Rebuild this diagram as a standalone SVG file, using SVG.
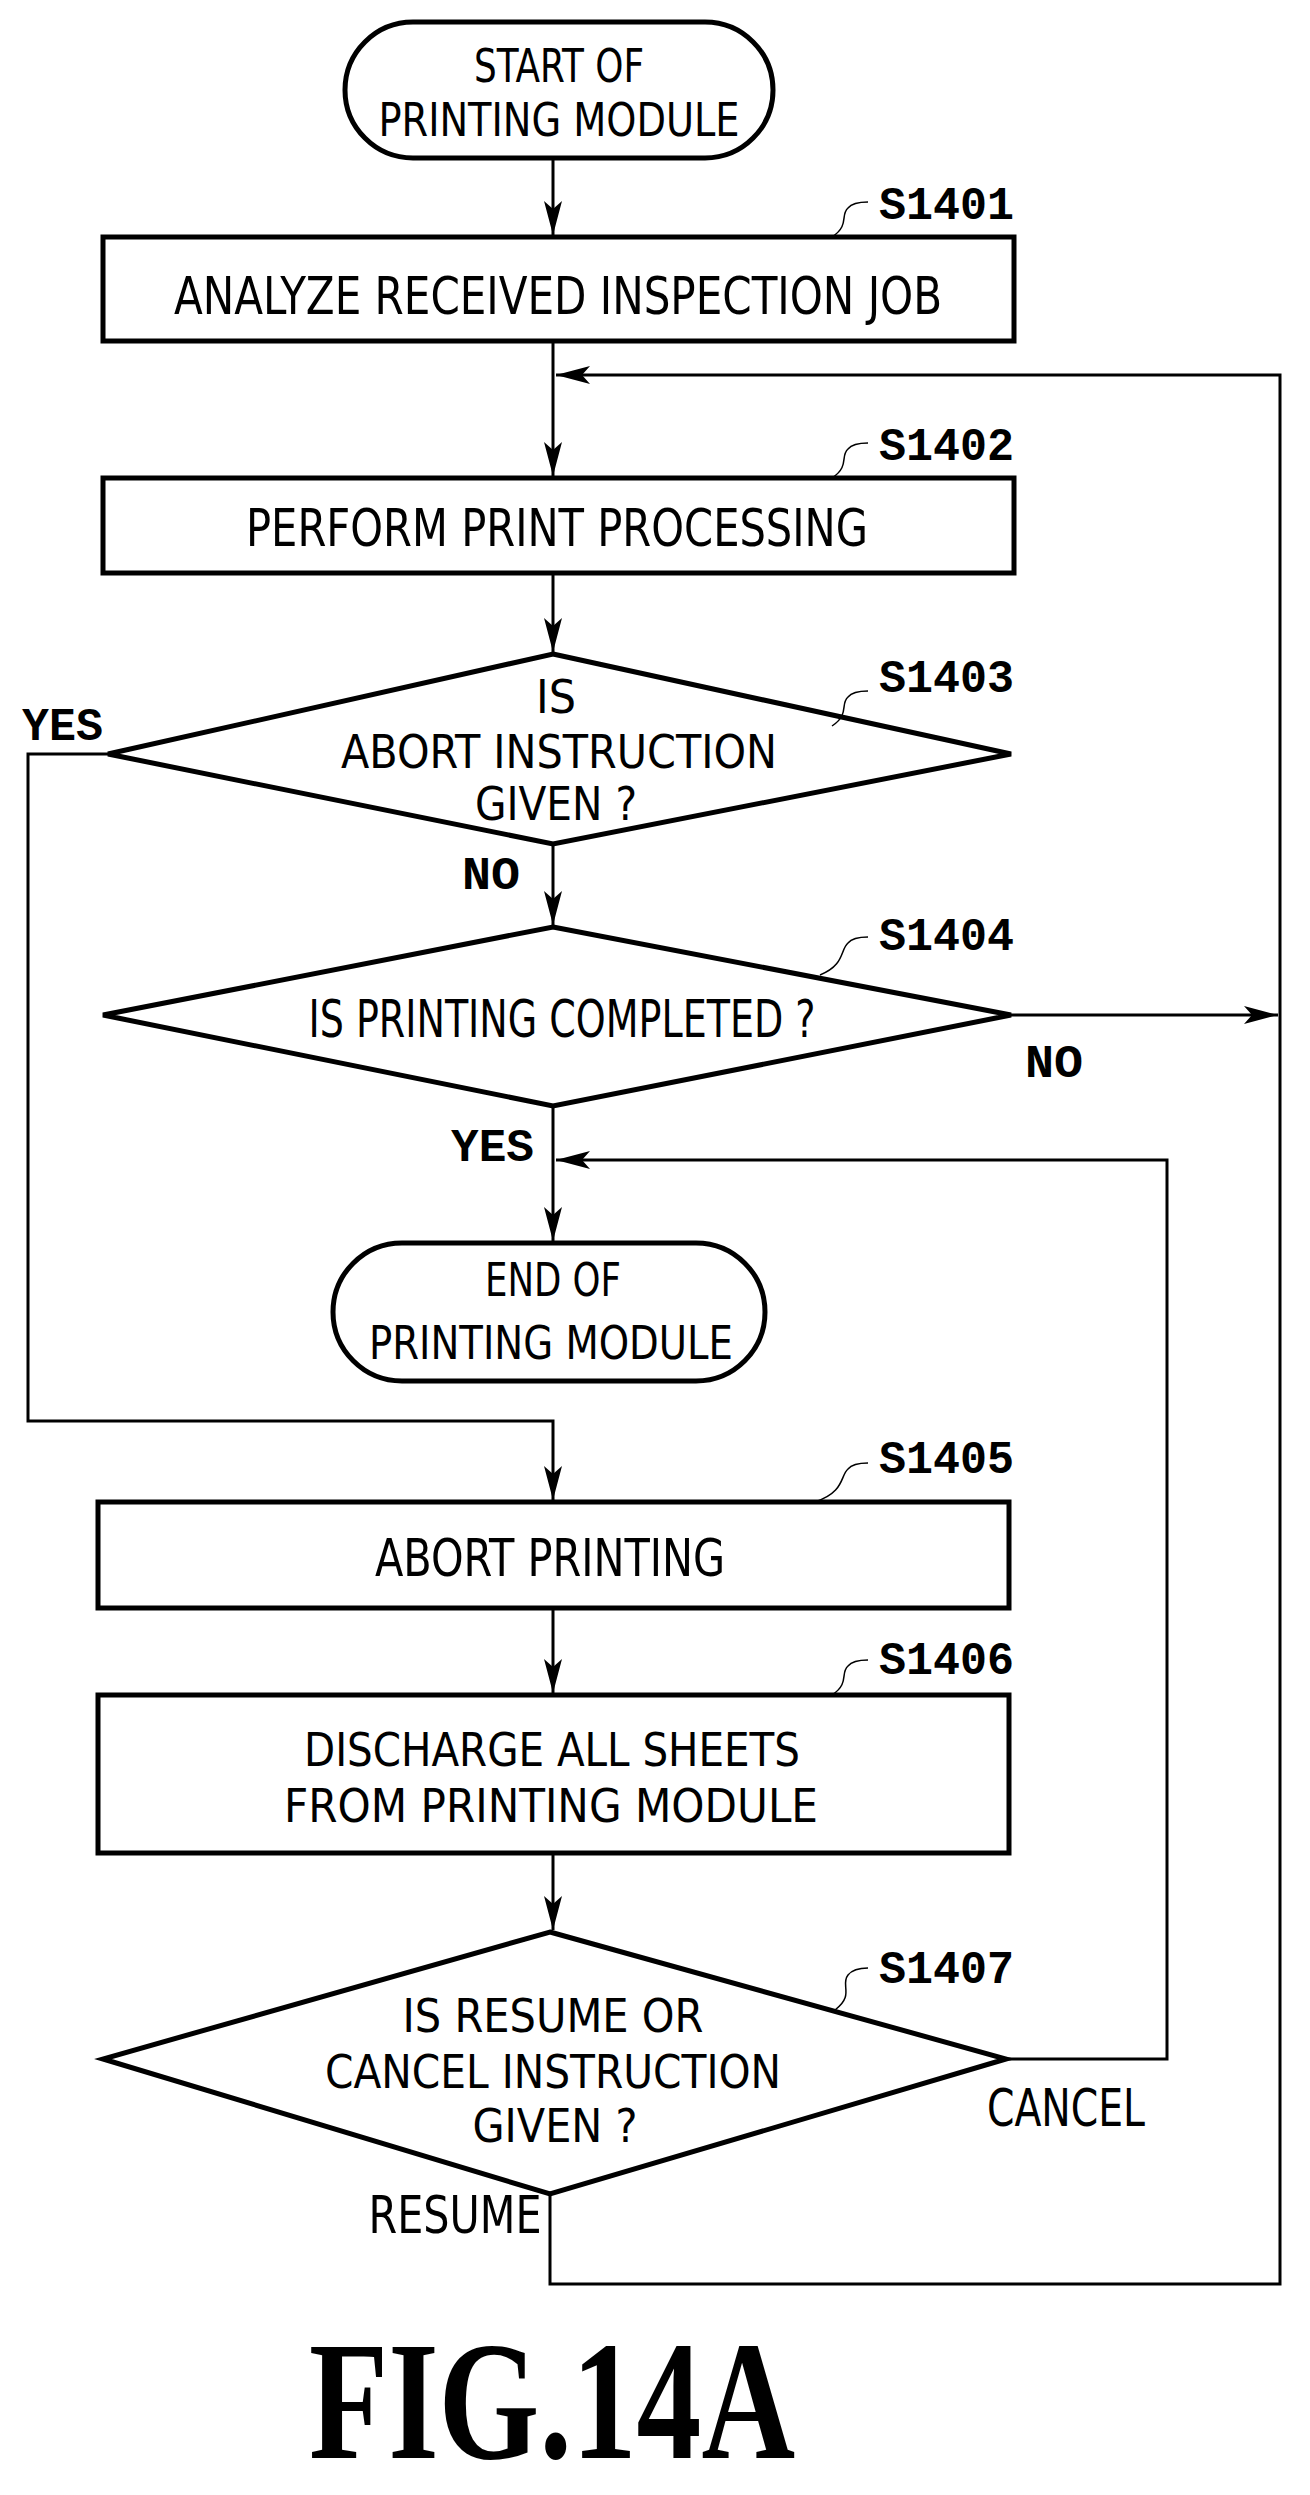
<svg xmlns="http://www.w3.org/2000/svg" width="1310" height="2495" viewBox="0 0 1310 2495">
<style>
.s{fill:#fff;stroke:#000;stroke-width:5}
.c{fill:none;stroke:#000;stroke-width:3}
.t{font-family:"DejaVu Sans Condensed","DejaVu Sans",sans-serif;font-size:52px;text-anchor:middle}
.tt{font-size:46px}
.l{font-family:"Liberation Mono",monospace;font-weight:bold;font-size:46px}
.q{fill:none;stroke:#000;stroke-width:1.5}
</style>
<defs>
<marker id="a" markerWidth="34" markerHeight="18" refX="34" refY="9" orient="auto" markerUnits="userSpaceOnUse" viewBox="0 0 34 18">
<path d="M0,0 L34,9 L0,18 L8,9 Z" fill="#000"/>
</marker>
</defs>
<g id="connectors">
<path class="c" d="M553,158 V235" marker-end="url(#a)"/>
<path class="c" d="M553,341 V476" marker-end="url(#a)"/>
<path class="c" d="M553,573 V652" marker-end="url(#a)"/>
<path class="c" d="M553,844 V925" marker-end="url(#a)"/>
<path class="c" d="M553,1106 V1241" marker-end="url(#a)"/>
<path class="c" d="M108,754 H28 V1421 H553 V1500" marker-end="url(#a)"/>
<path class="c" d="M553,1608 V1693" marker-end="url(#a)"/>
<path class="c" d="M553,1853 V1930" marker-end="url(#a)"/>
<path class="c" d="M1011,1015 H1278" marker-end="url(#a)"/>
<path class="c" d="M1006,2059 H1167 V1160 H556" marker-end="url(#a)"/>
<path class="c" d="M550,2194 V2284 H1280 V375 H556" marker-end="url(#a)"/>
</g>
<g id="start"><rect class="s" x="345" y="22" width="428" height="136" rx="68"/>
<text class="t tt" x="559" y="82" textLength="170" lengthAdjust="spacingAndGlyphs">START OF</text>
<text class="t tt" x="559" y="136" textLength="361" lengthAdjust="spacingAndGlyphs">PRINTING MODULE</text></g>
<g id="S1401"><rect class="s" x="103" y="237" width="911" height="104"/>
<text class="t" x="558" y="314" textLength="768" lengthAdjust="spacingAndGlyphs">ANALYZE RECEIVED INSPECTION JOB</text>
<path class="q" d="M832,237 C850,225 840,215 848,208 C852,203 860,202 868,202"/>
<text class="l" x="879" y="219" textLength="135" lengthAdjust="spacingAndGlyphs">S1401</text></g>
<g id="S1402"><rect class="s" x="103" y="478" width="911" height="95"/>
<text class="t" x="557" y="546" textLength="622" lengthAdjust="spacingAndGlyphs">PERFORM PRINT PROCESSING</text>
<path class="q" d="M832,478 C850,466 840,456 848,449 C852,444 860,443 868,443"/>
<text class="l" x="879" y="460" textLength="135" lengthAdjust="spacingAndGlyphs">S1402</text></g>
<g id="S1403"><polygon class="s" points="553,654 1011,754 553,844 108,754"/>
<text class="t tt" x="556" y="713" textLength="40" lengthAdjust="spacingAndGlyphs">IS</text>
<text class="t tt" x="559" y="768" textLength="436" lengthAdjust="spacingAndGlyphs">ABORT INSTRUCTION</text>
<text class="t tt" x="556" y="820" textLength="162" lengthAdjust="spacingAndGlyphs">GIVEN ?</text>
<path class="q" d="M832,726 C850,714 840,704 848,697 C852,692 860,691 868,691"/>
<text class="l" x="879" y="692" textLength="135" lengthAdjust="spacingAndGlyphs">S1403</text>
<text class="l" x="22" y="740" textLength="81" lengthAdjust="spacingAndGlyphs">YES</text>
<text class="l" x="462" y="889" textLength="58" lengthAdjust="spacingAndGlyphs">NO</text></g>
<g id="S1404"><polygon class="s" points="553,927 1011,1015 553,1106 103,1015"/>
<text class="t" x="562" y="1037" textLength="507" lengthAdjust="spacingAndGlyphs">IS PRINTING COMPLETED ?</text>
<path class="q" d="M820,975 C845,965 840,950 848,943 C852,938 860,937 868,937"/>
<text class="l" x="879" y="950" textLength="135" lengthAdjust="spacingAndGlyphs">S1404</text>
<text class="l" x="1025" y="1077" textLength="58" lengthAdjust="spacingAndGlyphs">NO</text>
<text class="l" x="451" y="1161" textLength="83" lengthAdjust="spacingAndGlyphs">YES</text></g>
<g id="end"><rect class="s" x="333" y="1243" width="432" height="138" rx="69"/>
<text class="t tt" x="553" y="1296" textLength="136" lengthAdjust="spacingAndGlyphs">END OF</text>
<text class="t tt" x="551" y="1359" textLength="364" lengthAdjust="spacingAndGlyphs">PRINTING MODULE</text></g>
<g id="S1405"><rect class="s" x="98" y="1502" width="911" height="106"/>
<text class="t" x="550" y="1576" textLength="350" lengthAdjust="spacingAndGlyphs">ABORT PRINTING</text>
<path class="q" d="M815,1502 C845,1492 840,1476 848,1469 C852,1464 860,1463 868,1463"/>
<text class="l" x="879" y="1473" textLength="135" lengthAdjust="spacingAndGlyphs">S1405</text></g>
<g id="S1406"><rect class="s" x="98" y="1695" width="911" height="158"/>
<text class="t tt" x="552" y="1766" textLength="496" lengthAdjust="spacingAndGlyphs">DISCHARGE ALL SHEETS</text>
<text class="t tt" x="551" y="1822" textLength="534" lengthAdjust="spacingAndGlyphs">FROM PRINTING MODULE</text>
<path class="q" d="M832,1695 C850,1683 840,1673 848,1666 C852,1661 860,1660 868,1660"/>
<text class="l" x="879" y="1674" textLength="135" lengthAdjust="spacingAndGlyphs">S1406</text></g>
<g id="S1407"><polygon class="s" points="550,1932 1006,2059 550,2194 103,2059"/>
<text class="t tt" x="553" y="2032" textLength="301" lengthAdjust="spacingAndGlyphs">IS RESUME OR</text>
<text class="t tt" x="553" y="2088" textLength="456" lengthAdjust="spacingAndGlyphs">CANCEL INSTRUCTION</text>
<text class="t tt" x="555" y="2142" textLength="165" lengthAdjust="spacingAndGlyphs">GIVEN ?</text>
<path class="q" d="M835,2010 C855,1995 840,1985 848,1975 C852,1970 860,1968 868,1968"/>
<text class="l" x="879" y="1983" textLength="135" lengthAdjust="spacingAndGlyphs">S1407</text>
<text class="t" x="1066" y="2126" textLength="158" lengthAdjust="spacingAndGlyphs">CANCEL</text>
<text class="t" x="455" y="2233" textLength="173" lengthAdjust="spacingAndGlyphs">RESUME</text></g>
<text x="552" y="2458" font-family="Liberation Serif,serif" font-weight="bold" font-size="170" text-anchor="middle" textLength="486" lengthAdjust="spacingAndGlyphs">FIG.14A</text>
</svg>
